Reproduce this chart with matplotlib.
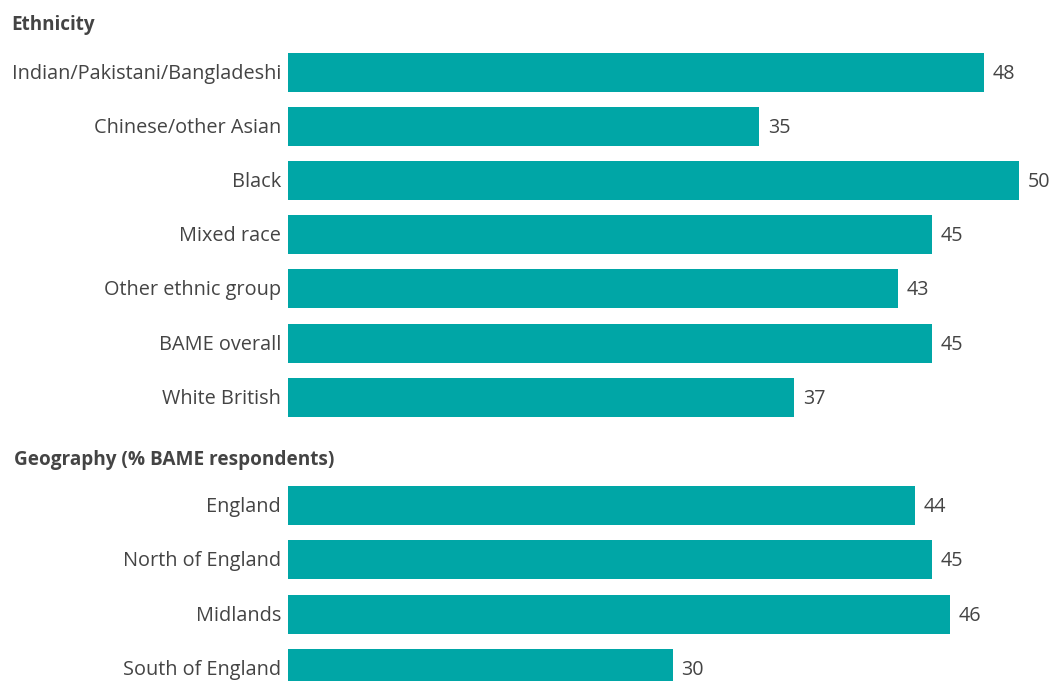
import matplotlib.pyplot as plt
import numpy as np

plt.rcParams['font.family'] = ['Open Sans', 'DejaVu Sans']

# Survey shares, %
ethnicity = ['Indian/Pakistani/Bangladeshi', 'Chinese/other Asian', 'Black',
             'Mixed race', 'Other ethnic group', 'BAME overall', 'White British']
ethnicity_vals = [48, 35, 50, 45, 43, 45, 37]

geography = ['England', 'North of England', 'Midlands', 'South of England']
geography_vals = [44, 45, 46, 30]

teal = '#00A6A6'
text_col = '#444444'

fig = plt.figure(figsize=(10.55, 6.81), dpi=100)
ax = fig.add_axes([288 / 1055, 0, 1 - 288 / 1055, 1])

# one blank slot between the two groups for the second heading
labels = ethnicity + geography
values = ethnicity_vals + geography_vals
pos = list(range(len(ethnicity))) + [len(ethnicity) + 1 + i for i in range(len(geography))]

ax.barh(np.array(pos) + 0.01, values, height=0.72, color=teal)
for p, v, lab in zip(pos, values, labels):
    ax.text(v + 0.5, p + 0.04, str(v), va='center', ha='left', fontsize=14.2, color=text_col)
    ax.text(7.75 - 0.4, p + 0.04, lab, va='center', ha='right', fontsize=14.3,
            color=text_col, clip_on=False)

ax.set_xlim(7.75, 7.75 + 767 / 17.3)
ax.set_ylim(11.245, -1.319)
ax.axis('off')

fig.text(11 / 1055, 1 - 25 / 681, 'Ethnicity', fontsize=13.6, fontweight='bold',
         color=text_col, va='center', ha='left')
fig.text(14 / 1055, 1 - 460 / 681, 'Geography (% BAME respondents)', fontsize=13.7,
         fontweight='bold', color=text_col, va='center', ha='left')

fig.savefig('out.png', dpi=100)
